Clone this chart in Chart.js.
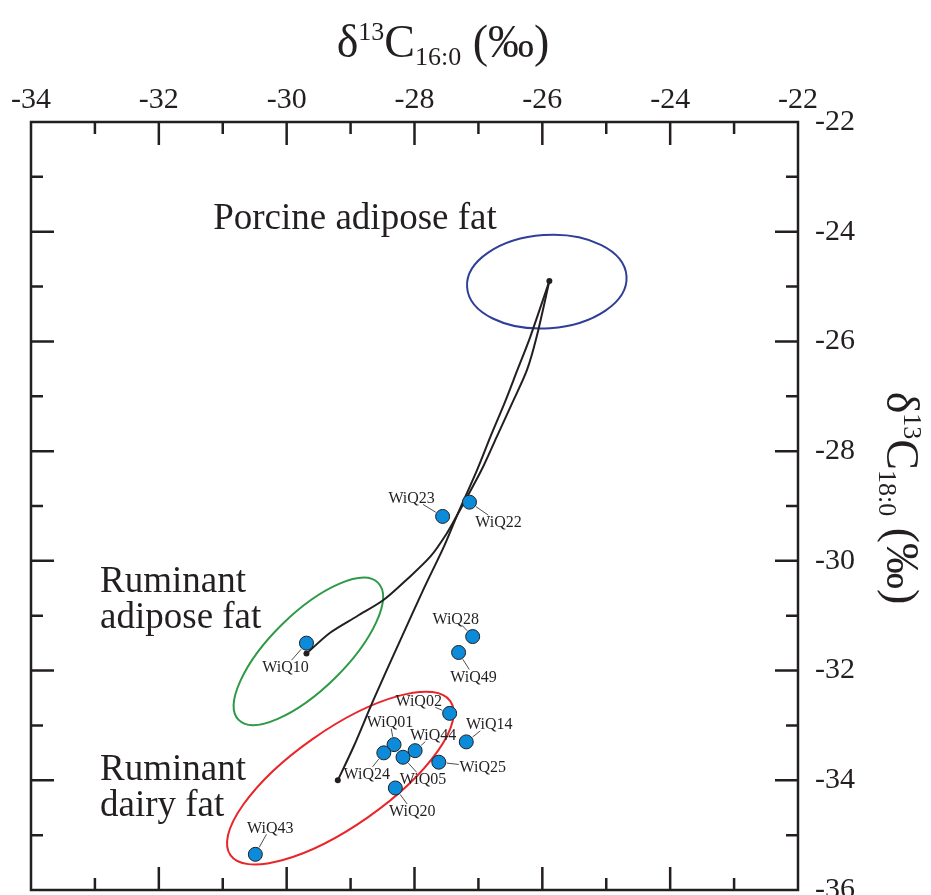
<!DOCTYPE html>
<html>
<head>
<meta charset="utf-8">
<script src="https://cdn.jsdelivr.net/npm/chart.js@4.4.1/dist/chart.umd.min.js"></script>
<style>
  html, body { margin: 0; padding: 0; background: #fff; }
  #wrap { width: 931px; height: 895px; }
</style>
</head>
<body>
<div id="wrap"><canvas id="isoChart" width="931" height="895"></canvas></div>
<script>
// sample values, delta13C of C16:0 (x) and C18:0 (y)
const sampleNames = ['WiQ01', 'WiQ02', 'WiQ05', 'WiQ10', 'WiQ14', 'WiQ20', 'WiQ22',
                     'WiQ23', 'WiQ24', 'WiQ25', 'WiQ28', 'WiQ43', 'WiQ44', 'WiQ49'];
const sampleC16 = [-28.32, -27.45, -28.18, -29.69, -27.19, -28.30, -27.14,
                   -27.56, -28.48, -27.62, -27.09, -30.49, -27.99, -27.31];
const sampleC18 = [-33.35, -32.78, -33.58, -31.50, -33.30, -34.14, -28.93,
                   -29.19, -33.50, -33.67, -31.38, -35.35, -33.46, -31.67];

// mixing curves
const mixAdiposeC16 = [-25.89, -26.09, -26.24, -26.47, -26.71, -26.95, -27.33,
                       -27.49, -27.75, -28.12, -28.48, -28.90, -29.32, -29.69];
const mixAdiposeC18 = [-24.90, -25.92, -26.52, -27.12, -27.73, -28.34, -29.16,
                       -29.49, -29.92, -30.34, -30.71, -31.01, -31.31, -31.69];
const mixDairyC16 = [-25.89, -26.19, -26.39, -26.59, -26.81, -27.02, -27.33,
                     -27.54, -27.86, -28.22, -28.64, -28.95, -29.20];
const mixDairyC18 = [-24.90, -25.92, -26.52, -27.12, -27.73, -28.34, -29.16,
                     -29.74, -30.52, -31.44, -32.53, -33.38, -34.00];
const endMemberC16 = [-25.89, -29.69, -29.20];
const endMemberC18 = [-24.90, -31.69, -34.00];

// reference ellipses (centre, semi-axes in per mil of C16:0, tilt in degrees)
const ellipseNames = ['Porcine adipose fat', 'Ruminant adipose fat', 'Ruminant dairy fat'];
const ellipseC16 = [-25.93, -29.66, -29.16];
const ellipseC18 = [-24.91, -31.65, -33.96];
const ellipseMajor = [1.25, 1.53, 2.10];
const ellipseMinor = [0.73, 0.59, 0.75];
const ellipseTilt = [-4, -44.5, -35];

const xTicks = [-34, -32, -30, -28, -26, -24, -22];
const yTicks = [-36, -34, -32, -30, -28, -26, -24, -22];

const ink = '#231f20';
const serif = '"Liberation Serif", "Times New Roman", serif';
const ellipseColors = ['#2f3f97', '#2e9a48', '#e8262a'];

// label placement, pixels from the marker (same order as sampleNames)
const labelShift = [[-4, -23], [-31, -13], [20, 22], [-21, 24], [23, -18], [17, 23], [29, 20],
                    [-31, -19], [-17, 21], [44, 5], [-17, -18], [15, -27], [18, -16], [15, 24]];

// group names, placed in data units
const groupText = [
  { lines: ['Porcine adipose fat'], x: -31.15, y: -23.95 },
  { lines: ['Ruminant', 'adipose fat'], x: -32.92, y: -30.56 },
  { lines: ['Ruminant', 'dairy fat'], x: -32.92, y: -33.99 }
];

function drawRich(ctx, parts) {
  let x = 0;
  parts.forEach(p => {
    ctx.font = p[1] + 'px ' + serif;
    ctx.fillText(p[0], x, p[2]);
    x += ctx.measureText(p[0]).width;
  });
}
function richWidth(ctx, parts) {
  let w = 0;
  parts.forEach(p => { ctx.font = p[1] + 'px ' + serif; w += ctx.measureText(p[0]).width; });
  return w;
}

const isoDecor = {
  id: 'isoDecor',
  beforeDatasetsDraw(chart) {
    const { ctx, scales: { x, y } } = chart;
    const unit = Math.abs(x.getPixelForValue(1) - x.getPixelForValue(0));
    ctx.save();
    ctx.lineWidth = 2;
    ellipseNames.forEach((n, i) => {
      ctx.strokeStyle = ellipseColors[i];
      ctx.beginPath();
      ctx.ellipse(x.getPixelForValue(ellipseC16[i]), y.getPixelForValue(ellipseC18[i]),
        ellipseMajor[i] * unit, ellipseMinor[i] * unit, ellipseTilt[i] * Math.PI / 180, 0, Math.PI * 2);
      ctx.stroke();
    });
    ctx.restore();
  },
  afterDatasetsDraw(chart) {
    const { ctx, chartArea: a, scales: { x, y } } = chart;
    ctx.save();
    // sample labels + leader lines
    ctx.fillStyle = ink;
    ctx.strokeStyle = ink;
    ctx.lineWidth = 0.8;
    ctx.font = '16px ' + serif;
    ctx.textAlign = 'center';
    ctx.textBaseline = 'middle';
    sampleNames.forEach((n, i) => {
      const px = x.getPixelForValue(sampleC16[i]);
      const py = y.getPixelForValue(sampleC18[i]);
      const [dx, dy] = labelShift[i];
      const tx = px + dx, ty = py + dy;
      const len = Math.hypot(dx, dy);
      const f = Math.min(dx ? 24 / Math.abs(dx) : 1, dy ? 7 / Math.abs(dy) : 1);
      const sx = px + dx / len * 8, sy = py + dy / len * 8;
      const ex = tx - dx * f, ey = ty - dy * f;
      if (Math.hypot(ex - px, ey - py) > 9) {
        ctx.beginPath(); ctx.moveTo(sx, sy); ctx.lineTo(ex, ey); ctx.stroke();
      }
      ctx.fillText(n, tx, ty + 1);
    });

    // group names
    ctx.textAlign = 'left';
    ctx.textBaseline = 'alphabetic';
    ctx.font = '37px ' + serif;
    groupText.forEach(g => {
      const gx = x.getPixelForValue(g.x);
      const gy = y.getPixelForValue(g.y);
      g.lines.forEach((t, k) => ctx.fillText(t, gx, gy + k * 36));
    });

    // frame with inward ticks
    ctx.lineWidth = 2.5;
    ctx.strokeRect(a.left, a.top, a.right - a.left, a.bottom - a.top);
    ctx.beginPath();
    xTicks.forEach((v, i) => {
      const marks = [];
      if (i > 0 && i < xTicks.length - 1) marks.push([v, 23]);
      if (i < xTicks.length - 1) marks.push([(v + xTicks[i + 1]) / 2, 12]);
      marks.forEach(([mv, l]) => {
        const p = x.getPixelForValue(mv);
        ctx.moveTo(p, a.top); ctx.lineTo(p, a.top + l);
        ctx.moveTo(p, a.bottom); ctx.lineTo(p, a.bottom - l);
      });
    });
    yTicks.forEach((v, i) => {
      const marks = [];
      if (i > 0 && i < yTicks.length - 1) marks.push([v, 23]);
      if (i < yTicks.length - 1) marks.push([(v + yTicks[i + 1]) / 2, 12]);
      marks.forEach(([mv, l]) => {
        const p = y.getPixelForValue(mv);
        ctx.moveTo(a.left, p); ctx.lineTo(a.left + l, p);
        ctx.moveTo(a.right, p); ctx.lineTo(a.right - l, p);
      });
    });
    ctx.stroke();

    // axis titles
    ctx.fillStyle = ink;
    ctx.textAlign = 'left';
    const topTitle = [['δ', 46, 0], ['13', 26, -17], ['C', 46, 0], ['16:0', 26, 8], [' (‰)', 46, 0]];
    const rightTitle = [['δ', 46, 0], ['13', 26, -17], ['C', 46, 0], ['18:0', 26, 8], [' (‰)', 46, 0]];
    ctx.save();
    ctx.translate(443 - richWidth(ctx, topTitle) / 2, 57);
    drawRich(ctx, topTitle);
    ctx.restore();
    ctx.save();
    ctx.translate(887, 498 - richWidth(ctx, rightTitle) / 2);
    ctx.rotate(Math.PI / 2);
    drawRich(ctx, rightTitle);
    ctx.restore();
    ctx.restore();
  }
};

const sampleData = sampleNames.map((n, i) => ({ x: sampleC16[i], y: sampleC18[i] }));
const adiposeData = mixAdiposeC16.map((v, i) => ({ x: v, y: mixAdiposeC18[i] }));
const dairyData = mixDairyC16.map((v, i) => ({ x: v, y: mixDairyC18[i] }));
const endData = endMemberC16.map((v, i) => ({ x: v, y: endMemberC18[i] }));

new Chart(document.getElementById('isoChart'), {
  type: 'scatter',
  data: {
    datasets: [
      {
        label: 'Samples',
        data: sampleData,
        pointRadius: 7,
        pointHoverRadius: 7,
        backgroundColor: '#0b8bd9',
        borderColor: ink,
        borderWidth: 1,
      },
      {
        label: 'End members',
        data: endData,
        pointRadius: 3,
        backgroundColor: ink,
        borderColor: ink,
        borderWidth: 0,
      },
      {
        label: 'Porcine - ruminant adipose',
        data: adiposeData,
        showLine: true,
        pointRadius: 0,
        borderColor: ink,
        borderWidth: 2,
        tension: 0.3,
      },
      {
        label: 'Porcine - ruminant dairy',
        data: dairyData,
        showLine: true,
        pointRadius: 0,
        borderColor: ink,
        borderWidth: 2,
        tension: 0.3,
      },
    ]
  },
  options: {
    responsive: false,
    animation: false,
    events: [],
    layout: { autoPadding: false, padding: { left: 31, right: 0, top: 0, bottom: 5 } },
    plugins: {
      legend: { display: false },
      tooltip: { enabled: false },
    },
    scales: {
      x: {
        type: 'linear',
        position: 'top',
        min: -34,
        max: -22,
        afterBuildTicks: s => { s.ticks = xTicks.map(v => ({ value: v })); },
        afterFit: s => { s.height = 122; s.paddingLeft = 0; s.paddingRight = 0; },
        grid: { display: false, drawTicks: false },
        border: { display: false },
        ticks: { font: { family: serif, size: 30 }, color: ink, padding: 4, maxRotation: 0 },
      },
      y: {
        type: 'linear',
        position: 'right',
        min: -36,
        max: -22,
        afterBuildTicks: s => { s.ticks = yTicks.map(v => ({ value: v })); },
        afterFit: s => { s.width = 133; s.paddingTop = 0; s.paddingBottom = 0; },
        grid: { display: false, drawTicks: false },
        border: { display: false },
        ticks: { font: { family: serif, size: 30 }, color: ink, padding: 17 },
      },
    },
  },
  plugins: [isoDecor],
});
</script>
</body>
</html>
